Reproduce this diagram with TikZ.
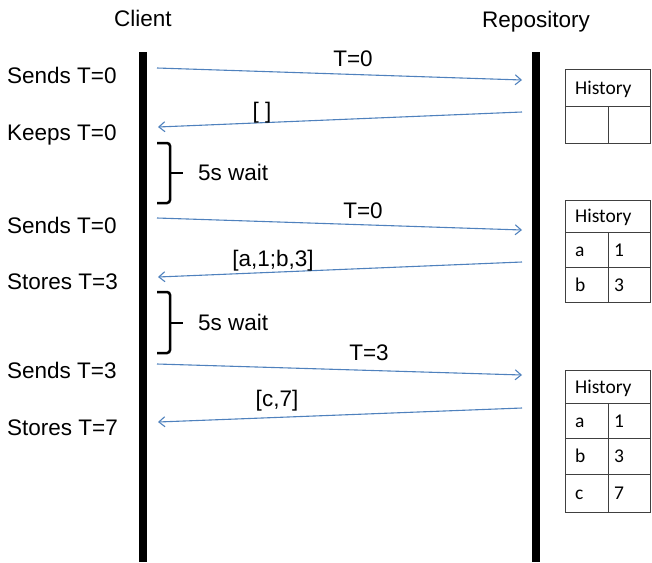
\documentclass[tikz,border=0pt]{standalone}
\usepackage{fontspec}
\setmainfont{Liberation Sans}
\newfontfamily\tablefont{Carlito}
\usetikzlibrary{arrows.meta}
\definecolor{msgblue}{RGB}{79,129,189}
\definecolor{gridgray}{RGB}{64,64,64}

\begin{document}
\begin{tikzpicture}[x=1pt,y=-1pt,
  lbl/.style={font=\fontsize{22.5}{26}\selectfont, inner sep=0pt},
  msg/.style={draw=msgblue, line width=1.1pt, -{Straight Barb[length=6pt,width=10pt]}},
  life/.style={line width=8pt},
  wait/.style={line width=2.5pt, rounded corners=3pt},
  cell/.style={font=\tablefont\fontsize{19.5}{23}\selectfont, inner sep=0pt, anchor=base west},
  grid/.style={draw=gridgray, line width=1pt}]
\useasboundingbox (0,0) rectangle (652,562);

% headers
\node[lbl, anchor=base] (hclient) at (143,26) {Client};
\node[lbl, anchor=base] (hrepo) at (536,27) {Repository};

% lifelines
\coordinate (ctop) at (142.5,52);
\coordinate (cbot) at (142.5,562);
\coordinate (rtop) at (536,52);
\coordinate (rbot) at (536,562);
\draw[life] (ctop) -- (cbot);
\draw[life] (rtop) -- (rbot);

% client-side state labels
\node[lbl, anchor=base west] (s1) at (7,83)  {Sends T=0};
\node[lbl, anchor=base west] (s2) at (7,140) {Keeps T=0};
\node[lbl, anchor=base west] (s3) at (7,233) {Sends T=0};
\node[lbl, anchor=base west] (s4) at (7,289) {Stores T=3};
\node[lbl, anchor=base west] (s5) at (7,378) {Sends T=3};
\node[lbl, anchor=base west] (s6) at (7,435) {Stores T=7};

% message end points
\coordinate (c1) at (157,68);  \coordinate (r1) at (522,80);
\coordinate (r2) at (522,112); \coordinate (c2) at (158,127);
\coordinate (c3) at (157,218); \coordinate (r3) at (522,230);
\coordinate (r4) at (522,262); \coordinate (c4) at (158,277);
\coordinate (c5) at (157,364); \coordinate (r5) at (522,375);
\coordinate (r6) at (522,408); \coordinate (c6) at (158,422);

% messages
\draw[msg] (c1) -- (r1);
\draw[msg] (r2) -- (c2);
\draw[msg] (c3) -- (r3);
\draw[msg] (r4) -- (c4);
\draw[msg] (c5) -- (r5);
\draw[msg] (r6) -- (c6);

% message labels
\node[lbl, anchor=base] (m1) at (353,66)  {T=0};
\node[lbl, anchor=base] (m2) at (262,118) {[ ]};
\node[lbl, anchor=base] (m3) at (363,218) {T=0};
\node[lbl, anchor=base] (m4) at (273,266) {[a,1;b,3]};
\node[lbl, anchor=base] (m5) at (369,360) {T=3};
\node[lbl, anchor=base] (m6) at (277,406) {[c,7]};

% wait brackets
\draw[wait] (157,143) -- (170,143) -- (170,203) -- (157,203);
\draw[wait] (170,173) -- (183,173);
\node[lbl, anchor=base west] (w1) at (198,180) {5s wait};
\draw[wait] (157,292) -- (170,292) -- (170,353) -- (157,353);
\draw[wait] (170,323) -- (183,323);
\node[lbl, anchor=base west] (w2) at (198,330) {5s wait};

% history table 1 (empty)
\draw[grid] (565,69) rectangle (650,143);
\draw[grid] (565,106) -- (650,106);
\draw[grid] (608,106) -- (608,143);
\node[cell] (h1) at (575,94) {History};

% history table 2
\draw[grid] (565,200) rectangle (650,302);
\draw[grid] (565,232) -- (650,232);
\draw[grid] (565,267) -- (650,267);
\draw[grid] (608,232) -- (608,302);
\node[cell] (h2) at (575,222) {History};
\node[cell] (t2a) at (575,256) {a};
\node[cell] (t2a1) at (614,256) {1};
\node[cell] (t2b) at (575,291) {b};
\node[cell] (t2b3) at (614,291) {3};

% history table 3
\draw[grid] (565,370) rectangle (650,512);
\draw[grid] (565,403) -- (650,403);
\draw[grid] (565,438) -- (650,438);
\draw[grid] (565,474) -- (650,474);
\draw[grid] (608,403) -- (608,512);
\node[cell] (h3) at (575,393) {History};
\node[cell] (t3a) at (575,427) {a};
\node[cell] (t3a1) at (614,427) {1};
\node[cell] (t3b) at (575,462.5) {b};
\node[cell] (t3b3) at (614,462.5) {3};
\node[cell] (t3c) at (575,499.5) {c};
\node[cell] (t3c7) at (614,499.5) {7};
\end{tikzpicture}
\end{document}
